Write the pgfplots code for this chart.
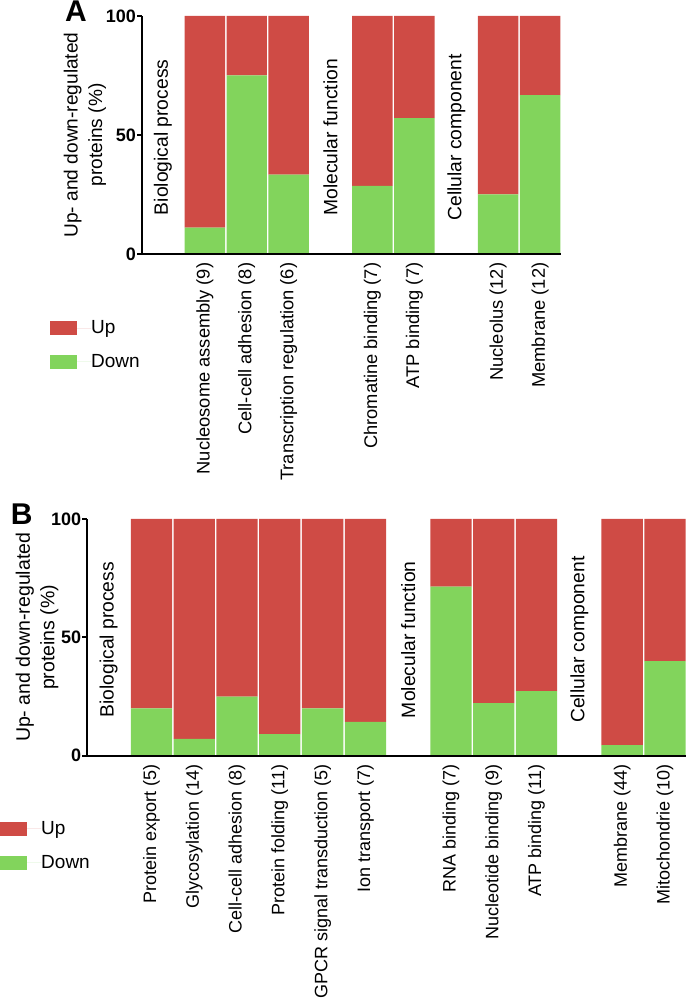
\documentclass[border=0pt]{standalone}
\usepackage{fontspec}
\setmainfont{Liberation Sans}
\usepackage{pgfplots}
\usepackage{pgfplotstable}
\pgfplotsset{compat=1.18}
\definecolor{upred}{RGB}{207,75,69}
\definecolor{downgreen}{RGB}{130,212,92}

\pgfplotstableread{
x down up
1 11.1 88.9
2 75.0 25.0
3 33.3 66.7
5 28.6 71.4
6 57.1 42.9
8 25.0 75.0
9 66.7 33.3
}\dataA

\pgfplotstableread{
x down up
1 20.0 80.0
2 7.1 92.9
3 25.0 75.0
4 9.1 90.9
5 20.0 80.0
6 14.3 85.7
8 71.4 28.6
9 22.2 77.8
10 27.3 72.7
12 4.5 95.5
13 40.0 60.0
}\dataB

\tikzset{grp/.style={rotate=90, font=\fontsize{19.3}{21}\selectfont, anchor=center}}

\pgfplotsset{
  mystyle/.style={
    scale only axis,
    axis lines=left,
    axis line style={line width=1.8pt, -},
    axis on top,
    enlargelimits=false,
    ymin=0, ymax=100,
    ytick={0,50,100},
    ybar stacked,
    bar width=0.965,
    tick align=outside,
    major tick length=5pt,
    ytick style={line width=1.8pt, black},
    xtick style={draw=none},
    /pgf/number format/assume math mode=true,
    yticklabel style={font=\fontsize{18}{20}\selectfont\bfseries, inner sep=1pt},
    xticklabel style={rotate=90, anchor=east, inner sep=3.5pt},
    ylabel={Up- and down-regulated\\proteins (\%)},
    legend image code/.code={\path (0pt,0pt) -- (41pt,0pt);\fill[##1,draw=none] (0pt,-7pt) rectangle (26.7pt,7pt);},
    legend style={draw=none, fill=none, font=\fontsize{19}{21}\selectfont, anchor=north west,
      row sep=19pt, inner sep=0pt, nodes={inner sep=0pt}},
    legend cell align=left,
    reverse legend,
    clip=false,
  },
}

\begin{document}
\begin{tikzpicture}
\useasboundingbox (0,0) rectangle (687pt,1000pt);

% Panel A
\begin{axis}[mystyle,
  at={(142pt,746pt)}, anchor=south west,
  width=419pt, height=238pt,
  xmin=-0.5, xmax=9.5,
  xtick={1,2,3,5,6,8,9},
  xticklabels={Nucleosome assembly (9),Cell-cell adhesion (8),Transcription regulation (6),Chromatine binding (7),ATP binding (7),Nucleolus (12),Membrane (12)},
  xticklabel style={font=\fontsize{18.3}{20}\selectfont},
  ylabel style={align=center, font=\fontsize{19.1}{24.5}\selectfont, at={(axis description cs:-0.136,0.5)}, anchor=center},
  legend style={at={(axis description cs:-0.2196,-0.28)}},
]
\addplot[fill=downgreen, draw=none] table[x=x, y=down] {\dataA};
\addlegendentry{Down}
\addplot[fill=upred, draw=none] table[x=x, y=up] {\dataA};
\addlegendentry{Up}
\node[grp] at (axis cs:0,49) {Biological process};
\node[grp] at (axis cs:4,49) {Molecular function};
\node[grp] at (axis cs:7,49) {Cellular component};
\end{axis}

% Panel B
\begin{axis}[mystyle,
  at={(87.3pt,244.3pt)}, anchor=south west,
  width=599pt, height=236.7pt,
  xmin=-0.5, xmax=13.5,
  xtick={1,2,3,4,5,6,8,9,10,12,13},
  xticklabels={Protein export (5),Glycosylation (14),Cell-cell adhesion (8),Protein folding (11),GPCR signal transduction (5),Ion transport (7),RNA binding (7),Nucleotide binding (9),ATP binding (11),Membrane (44),Mitochondrie (10)},
  xticklabel style={font=\fontsize{18}{20}\selectfont},
  ylabel style={align=center, font=\fontsize{19.5}{24.5}\selectfont, at={(axis description cs:-0.084,0.5)}, anchor=center},
  legend style={at={(axis description cs:-0.1457,-0.278)}},
]
\addplot[fill=downgreen, draw=none] table[x=x, y=down] {\dataB};
\addlegendentry{Down}
\addplot[fill=upred, draw=none] table[x=x, y=up] {\dataB};
\addlegendentry{Up}
\node[grp] at (axis cs:0,49) {Biological process};
\node[grp] at (axis cs:7,49) {Molecular function};
\node[grp] at (axis cs:11,49) {Cellular component};
\end{axis}

\node[font=\fontsize{30}{30}\selectfont\bfseries, anchor=base] at (76pt,978pt) {A};
\node[font=\fontsize{30}{30}\selectfont\bfseries, anchor=base] at (21.7pt,475pt) {B};
\end{tikzpicture}
\end{document}
